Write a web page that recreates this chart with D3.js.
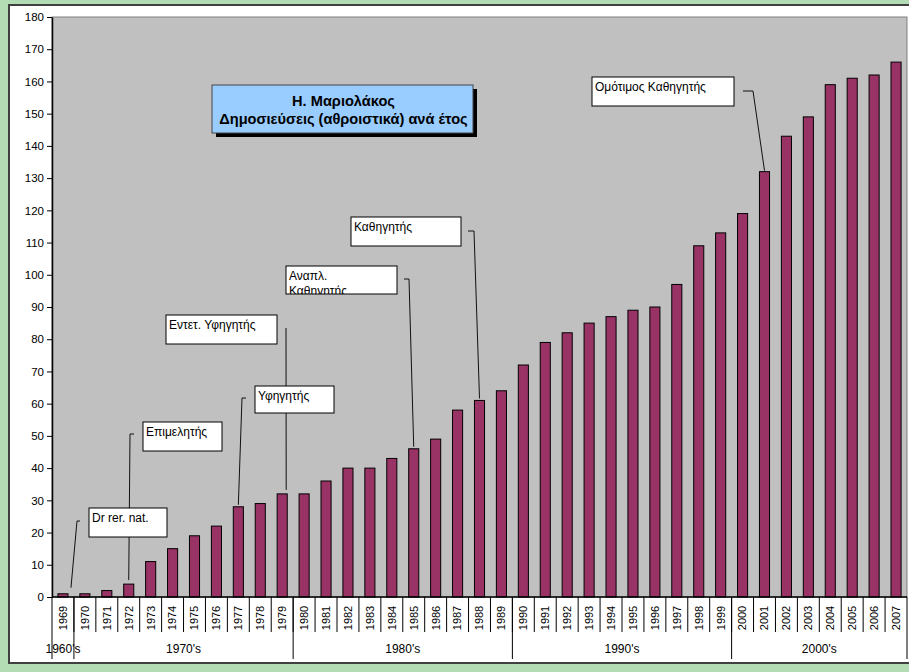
<!DOCTYPE html>
<html><head><meta charset="utf-8">
<script src="https://cdn.jsdelivr.net/npm/d3@7"></script>
<style>body{margin:0;background:#b4dcb4;}svg{display:block;font-family:"Liberation Sans",Arial,sans-serif;}</style>
</head><body>
<svg id="c" width="909" height="672"></svg>
<script>
// ---- data ----
const years = ["1969","1970","1971","1972","1973","1974","1975","1976","1977","1978","1979",
  "1980","1981","1982","1983","1984","1985","1986","1987","1988","1989",
  "1990","1991","1992","1993","1994","1995","1996","1997","1998","1999",
  "2000","2001","2002","2003","2004","2005","2006","2007"];
const publications = [1,1,2,4,11,15,19,22,28,29,32,
  32,36,40,40,43,46,49,58,61,64,
  72,79,82,85,87,89,90,97,109,113,
  119,132,143,149,159,161,162,166];
const yTicks = [0,10,20,30,40,50,60,70,80,90,100,110,120,130,140,150,160,170,180];
const decadeLabels = ["1960's","1970's","1980's","1990's","2000's"];
const decadeFirst = ["1969","1970","1980","1990","2000"];
const decadeLast  = ["1969","1979","1989","1999","2007"];
const titleLines = ["Η. Μαριολάκος","Δημοσιεύσεις (αθροιστικά) ανά έτος"];
const annotLabels = [["Dr rer. nat."],["Επιμελητής"],["Υφηγητής"],["Εντετ. Υφηγητής"],["Αναπλ.","Καθηγητής"],["Καθηγητής"],["Ομότιμος Καθηγητής"]];
const annotYears = ["1969","1972","1977","1979","1985","1988","2001"];

// ---- layout (positions / styles) ----
const annotLayout = [
  {box:[89,508,78,29],  start:[80,521], hook:-3, dx:8, gap:6},
  {box:[143,422,79,29], start:[134,434], hook:-4, dx:0, gap:4},
  {box:[255,386,79,27], start:[246,398], hook:-4, dx:0, gap:2},
  {box:[166,315,111,29],start:[286,328], hook:0, dx:4, gap:4},
  {box:[286,266,111,28],start:[404,279], hook:5, dx:0, gap:2},
  {box:[351,217,110,29],start:[468,231], hook:6, dx:0, gap:2},
  {box:[592,77,142,29], start:[743,91], hook:10, dx:0, gap:1}
];
const svg = d3.select("#c");
const L = 52, R = 907, T = 17, B = 597;

// chart area
svg.append("rect").attr("x",9).attr("y",5).attr("width",920).attr("height",658)
  .attr("fill","#fff").attr("stroke","#404040").attr("stroke-width",2);
svg.append("rect").attr("x",L).attr("y",T).attr("width",R-L).attr("height",B-T)
  .attr("fill","#c0c0c0").attr("stroke","#808080").attr("stroke-width",1);

const x = d3.scaleBand().domain(years).range([L,R]).paddingInner(0).paddingOuter(0);
const y = d3.scaleLinear().domain([0,180]).range([B,T]);
const bw = x.bandwidth();
const barW = bw*0.46;

// leader lines (under boxes)
const gL = svg.append("g");
annotYears.forEach((yr,i)=>{
  const a = annotLayout[i];
  const v = publications[years.indexOf(yr)];
  const ex = x(yr)+bw/2+a.dx, ey = y(v)-a.gap;
  const pts = [[a.start[0],a.start[1]],[a.start[0]+a.hook,a.start[1]],[ex,ey]];
  gL.append("path").attr("d",d3.line()(pts)).attr("fill","none").attr("stroke","#111").attr("stroke-width",1);
});

// bars
svg.append("g").selectAll("rect").data(years).join("rect")
  .attr("x",d=>x(d)+(bw-barW)/2)
  .attr("y",(d,i)=>y(publications[i]))
  .attr("width",barW)
  .attr("height",(d,i)=>B-y(publications[i]))
  .attr("fill","#993366").attr("stroke","#000").attr("stroke-width",1);

// y axis
const ya = svg.append("g").attr("transform",`translate(${L},0)`)
  .call(d3.axisLeft(y).tickValues(yTicks).tickSize(5).tickPadding(3).tickSizeOuter(0));
ya.select(".domain").attr("stroke","#000").attr("stroke-width",1.5);
ya.selectAll(".tick line").attr("stroke","#000");
ya.selectAll("text").attr("font-size",11.5).attr("fill","#000").attr("font-family","Liberation Sans, Arial, sans-serif");

// x axis baseline
svg.append("line").attr("x1",L).attr("x2",R).attr("y1",B).attr("y2",B).attr("stroke","#000").attr("stroke-width",1.5);

// category separators
const gx = svg.append("g");
gx.selectAll("line").data(years.slice(1)).join("line")
  .attr("x1",d=>x(d)).attr("x2",d=>x(d)).attr("y1",B).attr("y2",632)
  .attr("stroke","#000").attr("stroke-width",1);
gx.selectAll("text").data(years).join("text")
  .attr("transform",d=>`translate(${x(d)+bw/2},618) rotate(-90)`)
  .attr("text-anchor","middle").attr("dy","0.35em")
  .attr("font-size",11).attr("fill","#000").text(d=>d);

// decade separators & labels
const decBounds = decadeFirst.map(d=>x(d)).concat([R]);
svg.append("g").selectAll("line").data(decBounds).join("line")
  .attr("x1",d=>d).attr("x2",d=>d).attr("y1",B).attr("y2",659)
  .attr("stroke","#000").attr("stroke-width",1);
svg.append("g").selectAll("text").data(decadeLabels).join("text")
  .attr("x",(d,i)=>(x(decadeFirst[i])+x(decadeLast[i])+bw)/2)
  .attr("y",653).attr("text-anchor","middle").attr("font-size",12).attr("fill","#000").text(d=>d);

// annotation boxes
const defs = svg.append("defs");
annotLabels.forEach((lines,i)=>{
  const [bx,by,w,h] = annotLayout[i].box;
  defs.append("clipPath").attr("id","clip"+i).append("rect").attr("x",bx).attr("y",by).attr("width",w).attr("height",h);
  svg.append("rect").attr("x",bx).attr("y",by).attr("width",w).attr("height",h)
    .attr("fill","#fff").attr("stroke","#000").attr("stroke-width",1);
  const t = svg.append("text").attr("clip-path",`url(#clip${i})`).attr("font-size",12).attr("fill","#000");
  lines.forEach((ln,j)=>{
    t.append("tspan").attr("x",bx+3).attr("y",by+13.5+j*15).text(ln);
  });
});

// title box
const tb = [212,85,261,48];
svg.append("rect").attr("x",tb[0]+4).attr("y",tb[1]+4).attr("width",tb[2]).attr("height",tb[3]).attr("fill","#000");
svg.append("rect").attr("x",tb[0]).attr("y",tb[1]).attr("width",tb[2]).attr("height",tb[3])
  .attr("fill","#99ccff").attr("stroke","#444").attr("stroke-width",1);
titleLines.forEach((ln,j)=>{
  svg.append("text").attr("x",tb[0]+tb[2]/2+1).attr("y",tb[1]+21+j*18)
    .attr("text-anchor","middle").attr("font-size",14.6).attr("font-weight","bold").attr("fill","#000").text(ln);
});
</script>
</body></html>
